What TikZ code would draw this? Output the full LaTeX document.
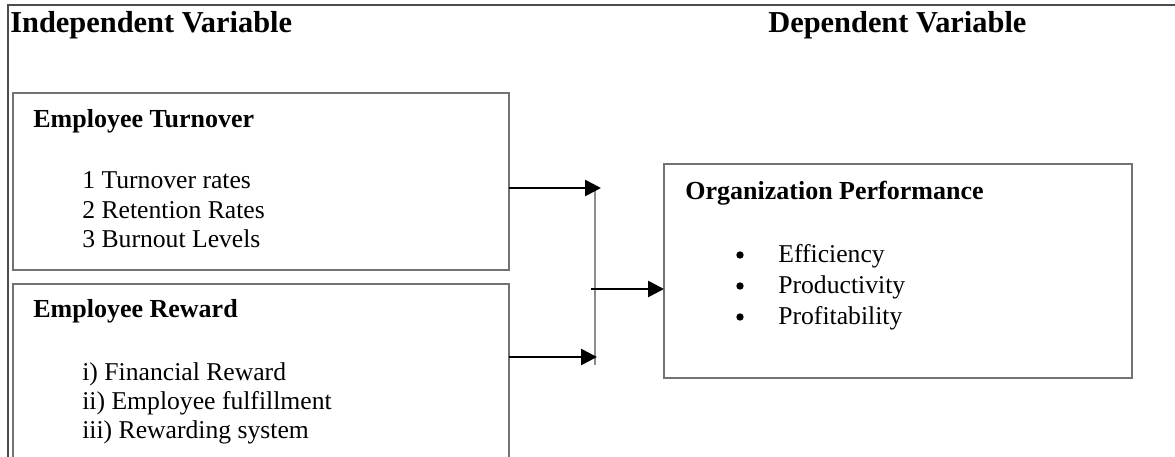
\documentclass[tikz,border=0pt]{standalone}
\usepackage{fontspec}
\setmainfont{Liberation Serif}
\usetikzlibrary{arrows.meta,positioning}

\begin{document}
\begin{tikzpicture}[x=0.02cm,y=-0.02cm,
    box/.style={draw=black!55,line width=0.8pt,inner sep=0pt,outer sep=0pt,anchor=north west},
    title/.style={anchor=base west,inner sep=0pt,font=\fontsize{17.3}{20}\selectfont\bfseries},
    head/.style={anchor=base west,inner sep=0pt,font=\fontsize{14.8}{18}\selectfont\bfseries},
    item/.style={anchor=base west,inner sep=0pt,font=\fontsize{14.6}{18}\selectfont},
    dot/.style={circle,fill=black,inner sep=0pt,minimum size=4.2pt},
    link/.style={line width=1.5pt,-{Triangle[length=9pt,width=9pt]}}]
    \useasboundingbox (0,0) rectangle (1175,456);
    \clip (0,0) rectangle (1175,456);
    % outer frame, only its top and left sides show
    \draw[black!70,line width=1.1pt] (1175,5) -- (8,5) -- (8,470);
    \node[title] (indep) at (10,33) {Independent Variable};
    \node[title] (dep) at (768,33) {Dependent Variable};
    % the three boxes
    \node[box,minimum width=9.92cm,minimum height=3.54cm] (turnover) at (13,93) {};
    \node[box,minimum width=9.92cm,minimum height=3.8cm] (reward) at (13,284) {};
    \node[box,minimum width=9.36cm,minimum height=4.28cm] (perf) at (664,164) {};
    \node[head] (turnoverhead) at (33,127) {Employee Turnover};
    \node[head] (rewardhead) at (33,317) {Employee Reward};
    \node[head] (perfhead) at (685,199) {Organization Performance};
    \foreach \y/\txt [count=\i] in {188/1 Turnover rates,218/2 Retention Rates,247/3 Burnout Levels}
        \node[item] (t\i) at (82,\y) {\txt};
    \foreach \y/\txt [count=\i] in {380/i) Financial Reward,409/ii) Employee fulfillment,438/iii) Rewarding system}
        \node[item] (r\i) at (82,\y) {\txt};
    \foreach \y/\txt [count=\i] in {262/Efficiency,293/Productivity,324/Profitability} {
        \node[dot] (b\i) at (740,\y-7) {};
        \node[item] (p\i) at (778,\y) {\txt};
    }
    % junction of the two inputs
    \coordinate (jtop) at (595,187);
    \coordinate (jbot) at (595,365);
    \coordinate (tipA) at (601,188);
    \coordinate (tipB) at (597,357);
    \coordinate (jmid) at (591,289);
    \draw[black!45,line width=0.8pt] (jtop) -- (jbot);
    \draw[link] (turnover.east |- tipA) -- (tipA);
    \draw[link] (reward.east |- tipB) -- (tipB);
    \draw[link] (jmid) -- (perf.west |- jmid);
\end{tikzpicture}
\end{document}
